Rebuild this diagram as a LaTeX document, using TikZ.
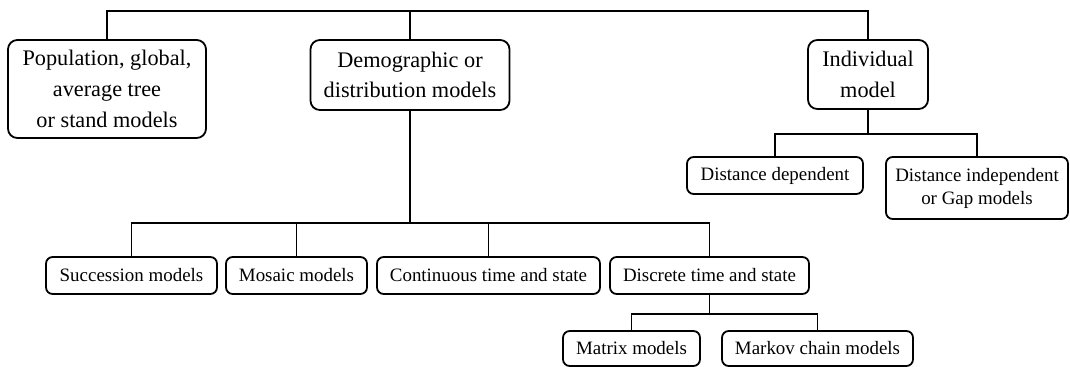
\documentclass[tikz,border=0pt]{standalone}
\usepackage{fontspec}
\setmainfont{Liberation Serif}
\begin{document}
\begin{tikzpicture}[x=0.75pt,y=0.75pt,yscale=-1,xscale=1,
  box/.style={draw, line width=1.35pt, rounded corners=5pt, align=center, inner sep=0pt, minimum height=27.75pt, font=\fontsize{14.2}{17.25}\selectfont},
  bigbox/.style={box, rounded corners=7pt, font=\fontsize{16.7}{23}\selectfont},
  link/.style={line width=1.35pt}]
\useasboundingbox (0,0) rectangle (1070,367);

%Shape: Top level boxes
\node [bigbox, minimum width=148.5pt, minimum height=73.5pt] (pop) at (107,89) {Population, global,\\average tree\\or stand models};
\node [bigbox, minimum width=149.25pt, minimum height=52.5pt] (demo) at (410,75) {Demographic or\\distribution models};
\node [bigbox, minimum width=90pt, minimum height=51.75pt] (indiv) at (868,74.5) {Individual\\model};

%Shape: Individual branch
\node [box, minimum width=132pt] (distdep) at (775,175.5) {Distance dependent};
\node [box, minimum width=136.5pt, minimum height=46.5pt] (distind) at (977,188) {Distance independent\\or Gap models};

%Shape: Demographic branch
\node [box, minimum width=128.25pt] (succ) at (131.5,275.5) {Succession models};
\node [box, minimum width=105.75pt] (mosaic) at (296.5,275.5) {Mosaic models};
\node [box, minimum width=167.25pt] (cont) at (488.5,275.5) {Continuous time and state};
\node [box, minimum width=149.25pt] (disc) at (709.5,275.5) {Discrete time and state};

%Shape: Discrete branch
\node [box, minimum width=102.75pt, minimum height=26.25pt] (matrix) at (631.5,348.5) {Matrix models};
\node [box, minimum width=143.25pt, minimum height=26.25pt] (markov) at (817.5,348.5) {Markov chain models};

%Straight Lines: top bar
\draw [link] (pop.north) -- ++(0,-28) coordinate (topjoin) -| (indiv.north);
\draw [link] (demo.north) -- (demo.north |- topjoin);

%Straight Lines: individual
\draw [link] (indiv.south) -- ++(0,24) coordinate (indjoin);
\draw [link] (distdep.north) |- (indjoin) -| (distind.north);

%Straight Lines: demographic
\draw [link] (demo.south) -- ++(0,112) coordinate (demjoin);
\draw [link] (succ.north) |- (demjoin) -| (disc.north);
\foreach \n in {mosaic,cont}
  \draw [link] (\n.north) -- (\n.north |- demjoin);

%Straight Lines: discrete
\draw [link] (disc.south) -- ++(0,19) coordinate (discjoin);
\draw [link] (matrix.north) |- (discjoin) -| (markov.north);

\end{tikzpicture}
\end{document}
